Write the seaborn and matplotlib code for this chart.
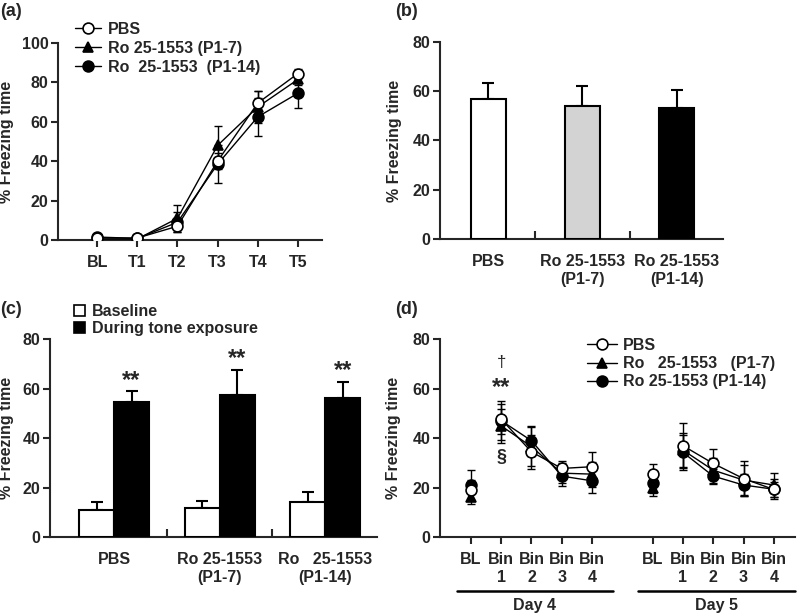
import numpy as np
import pandas as pd
import matplotlib
matplotlib.use("Agg")
import matplotlib.pyplot as plt
import matplotlib.transforms as mtransforms
from matplotlib.lines import Line2D
from matplotlib.patches import Patch
from matplotlib.ticker import FixedLocator
import seaborn as sns

# ==========================================================
# Data
# ==========================================================
legend_a = ["PBS", "Ro 25-1553 (P1-7)", "Ro  25-1553  (P1-14)"]
legend_d = ["PBS", "Ro   25-1553   (P1-7)", "Ro 25-1553 (P1-14)"]

# (a) acquisition
trials_a = ["BL", "T1", "T2", "T3", "T4", "T5"]
pbs_a = [1, 1, 7, 40, 69.5, 84.5]
pbs_a_err = [1, 1, 2, 4, 6, 2.5]
p17_a = [0.5, 0.5, 11, 48, 67.5, 81.5]
p17_a_err = [0.5, 0.5, 7, 10, 8, 3]
p114_a = [1.5, 0.8, 9, 38.5, 62.5, 74.5]
p114_a_err = [1, 1, 5, 9.5, 9.5, 7.5]

# (b) contextual fear
labels_b = ["PBS", "Ro 25-1553\n(P1-7)", "Ro 25-1553\n(P1-14)"]
freeze_b = [57, 54, 53.3]
freeze_b_err = [6.5, 8.3, 7.3]

# (c) cued fear
labels_c = ["PBS", "Ro 25-1553\n(P1-7)", "Ro   25-1553\n(P1-14)"]
phases_c = ["Baseline", "During tone exposure"]
baseline_c = [11, 11.6, 14]
baseline_c_err = [3.2, 3.0, 4.3]
tone_c = [54.5, 57.2, 56]
tone_c_err = [4.4, 10.4, 6.7]

# (d) extinction, BL + 4 bins on day 4 and day 5
bins_d = ["BL", "Bin\n1", "Bin\n2", "Bin\n3", "Bin\n4"]
days_d = ["Day 4", "Day 5"]
pbs_d4 = [18.9, 47.6, 34.4, 27.7, 28.4]
pbs_d4_err = [4, 6, 7, 3, 6]
p17_d4 = [16.2, 44.9, 36.5, 25.8, 25.4]
p17_d4_err = [3, 7, 8, 4, 5]
p114_d4 = [20.9, 47, 38.9, 24.6, 22.7]
p114_d4_err = [6, 8, 6, 4, 5]
pbs_d5 = [25.5, 36.9, 29.7, 23.6, 19.2]
pbs_d5_err = [4, 9, 6, 7, 3]
p17_d5 = [19.6, 35.1, 27, 23, 21]
p17_d5_err = [3, 7, 5, 6, 5]
p114_d5 = [21.9, 34.2, 24.6, 21, 19.3]
p114_d5_err = [4, 7, 3, 4.5, 4]

# ==========================================================
# Style
# ==========================================================
sns.set_theme(style="ticks")
plt.rcParams["font.family"] = ["Liberation Sans", "DejaVu Sans"]
plt.rcParams["font.weight"] = "bold"
plt.rcParams["axes.labelweight"] = "bold"
plt.rcParams["axes.linewidth"] = 1.5
FS = 11.5

markers = ["o", "^", "o"]
faces = ["white", "black", "black"]
zords = [5, 4, 3]

fig = plt.figure(figsize=(8, 6.14), dpi=100)


def px_axes(x0, x1, ybot, ytop):
    return fig.add_axes([x0 / 800, 1 - ybot / 614, (x1 - x0) / 800, (ybot - ytop) / 614])


def style_axes(ax):
    sns.despine(ax=ax)
    ax.tick_params(axis="y", direction="out", length=5, width=1.5, pad=2, labelsize=FS)
    ax.tick_params(axis="x", direction="out", length=5, width=1.5, pad=4, labelsize=FS)
    ax.set_ylabel("% Freezing time", fontsize=FS)


def draw_line(ax, x, y, err, i):
    ax.errorbar(x, y, yerr=err, fmt="none", ecolor="black", elinewidth=1,
                capsize=3, capthick=1, zorder=2)
    sns.lineplot(x=x, y=y, ax=ax, color="black", linewidth=1, marker=markers[i],
                 markersize=7.8, markerfacecolor=faces[i], markeredgecolor="black",
                 markeredgewidth=1.2, zorder=zords[i], legend=False)


def line_handles():
    return [Line2D([], [], color="black", lw=1, marker=m, markersize=7.8,
                   markerfacecolor=f, markeredgecolor="black", markeredgewidth=1.2)
            for m, f in zip(markers, faces)]


# ---------------- (a) ----------------
ax = px_axes(58, 322, 240, 43)
xa = np.arange(len(trials_a))
for i, (v, e) in enumerate([(pbs_a, pbs_a_err), (p17_a, p17_a_err), (p114_a, p114_a_err)]):
    draw_line(ax, xa, v, e, i)
ax.set_xlim(-0.975, 5.6)
ax.set_ylim(0, 100)
ax.set_yticks([0, 20, 40, 60, 80, 100])
ax.set_xticks(xa)
ax.set_xticklabels(trials_a)
style_axes(ax)
ax.tick_params(axis="x", pad=6)
ax.set_xlabel("")
ax.yaxis.set_label_coords(-0.168, 0.5)
ax.legend(line_handles(), legend_a, loc="upper left", bbox_to_anchor=(75 / 800, 1 - 22 / 614),
          bbox_transform=fig.transFigure, frameon=False, borderpad=0, borderaxespad=0,
          handlelength=1.6, handletextpad=0.45, labelspacing=0.25, fontsize=FS)

# ---------------- (b) ----------------
ax = px_axes(440, 723, 239, 42)
sns.barplot(x=labels_b, y=freeze_b, hue=labels_b, palette=["white", "#d3d3d3", "black"],
            legend=False, width=0.37, edgecolor="black", linewidth=1.5, ax=ax, zorder=3)
xb = [p.get_x() + p.get_width() / 2 for p in ax.patches]
ax.errorbar(xb, freeze_b, yerr=[np.zeros(3), freeze_b_err], fmt="none", ecolor="black",
            elinewidth=1.5, capsize=4, capthick=1.5, zorder=2)
ax.set_xlim(-0.51, 2.49)
ax.set_ylim(0, 80)
ax.set_yticks([0, 20, 40, 60, 80])
style_axes(ax)
ax.tick_params(axis="x", which="major", length=0, pad=11)
ax.xaxis.set_minor_locator(FixedLocator([0.5, 1.5]))
ax.tick_params(axis="x", which="minor", direction="in", length=6, width=1.5)
ax.set_xlabel("")
ax.yaxis.set_label_coords(-0.134, 0.5)

# ---------------- (c) ----------------
ax = px_axes(50, 377, 537, 339)
df_c = pd.DataFrame({
    "group": labels_c * 2,
    "phase": [phases_c[0]] * 3 + [phases_c[1]] * 3,
    "value": baseline_c + tone_c,
    "err": baseline_c_err + tone_c_err,
})
sns.barplot(data=df_c, x="group", y="value", hue="phase", hue_order=phases_c,
            palette=["white", "black"], width=0.66, edgecolor="black", linewidth=1.5,
            legend=False, ax=ax, zorder=3)
xc = [p.get_x() + p.get_width() / 2 for p in ax.patches][:6]
ax.errorbar(xc, df_c["value"], yerr=[np.zeros(6), df_c["err"]], fmt="none", ecolor="black",
            elinewidth=1.5, capsize=4, capthick=1.5, zorder=2)
for x, v, e in zip(xc[3:], tone_c, tone_c_err):
    ax.text(x, v + e + 4.5, "**", ha="center", va="center", fontsize=17)
ax.set_xlim(-0.607, 2.49)
ax.set_ylim(0, 80)
ax.set_yticks([0, 20, 40, 60, 80])
style_axes(ax)
ax.tick_params(axis="x", which="major", length=0, pad=11)
ax.xaxis.set_minor_locator(FixedLocator([0.5, 1.5]))
ax.tick_params(axis="x", which="minor", direction="in", length=6, width=1.5)
ax.set_xlabel("")
ax.yaxis.set_label_coords(-0.110, 0.5)
ax.legend([Patch(facecolor="white", edgecolor="black", lw=1.2),
           Patch(facecolor="black", edgecolor="black", lw=1.2)], phases_c,
          loc="upper left", bbox_to_anchor=(74 / 800, 1 - 304 / 614),
          bbox_transform=fig.transFigure, frameon=False, borderpad=0, borderaxespad=0,
          handlelength=0.7, handleheight=0.7, handletextpad=0.45, labelspacing=0.15,
          fontsize=FS)

# ---------------- (d) ----------------
ax = px_axes(440, 795, 537, 339)
series_d = [
    [(pbs_d4, pbs_d4_err), (pbs_d5, pbs_d5_err)],
    [(p17_d4, p17_d4_err), (p17_d5, p17_d5_err)],
    [(p114_d4, p114_d4_err), (p114_d5, p114_d5_err)],
]
xd_all = []
for i, days in enumerate(series_d):
    for k, (v, e) in enumerate(days):
        xd = np.arange(len(bins_d)) + 6 * k
        if i == 0:
            xd_all.extend(xd)
        # BL stands alone, bins 1-4 are joined
        draw_line(ax, xd[:1], v[:1], e[:1], i)
        draw_line(ax, xd[1:], v[1:], e[1:], i)
ax.set_xlim(-1.02, 10.7)
ax.set_ylim(0, 80)
ax.set_yticks([0, 20, 40, 60, 80])
ax.set_xticks(xd_all)
ax.set_xticklabels(bins_d * 2, va="top")
style_axes(ax)
ax.tick_params(axis="x", pad=6)
ax.set_xlabel("")
ax.yaxis.set_label_coords(-0.110, 0.5)
ax.text(1, 70.5, "\u2020", ha="center", va="center", fontsize=12, fontweight="normal")
ax.text(1, 60.5, "**", ha="center", va="center", fontsize=17)
ax.text(1, 32.3, "\u00a7", ha="center", va="center", fontsize=13)
trans = mtransforms.blended_transform_factory(ax.transData, ax.transAxes)
for (x0, x1), day in zip([(-0.46, 4.69), (5.51, 10.7)], days_d):
    ax.plot([x0, x1], [-0.273, -0.273], color="black", lw=1.8, transform=trans, clip_on=False)
    ax.text((x0 + x1) / 2, -0.345, day, ha="center", va="center", fontsize=FS, transform=trans)
ax.legend(line_handles(), legend_d, loc="upper left", bbox_to_anchor=(587 / 800, 1 - 338 / 614),
          bbox_transform=fig.transFigure, frameon=False, borderpad=0, borderaxespad=0,
          handlelength=1.9, handletextpad=0.35, labelspacing=0.2, fontsize=FS)

# panel letters
for lab, x, y in [("(a)", 0, 11), ("(b)", 395, 11), ("(c)", 0, 309), ("(d)", 395, 309)]:
    fig.text(x / 800, 1 - y / 614, lab, fontsize=13, ha="left", va="center")

fig.savefig("out.png", dpi=100)
